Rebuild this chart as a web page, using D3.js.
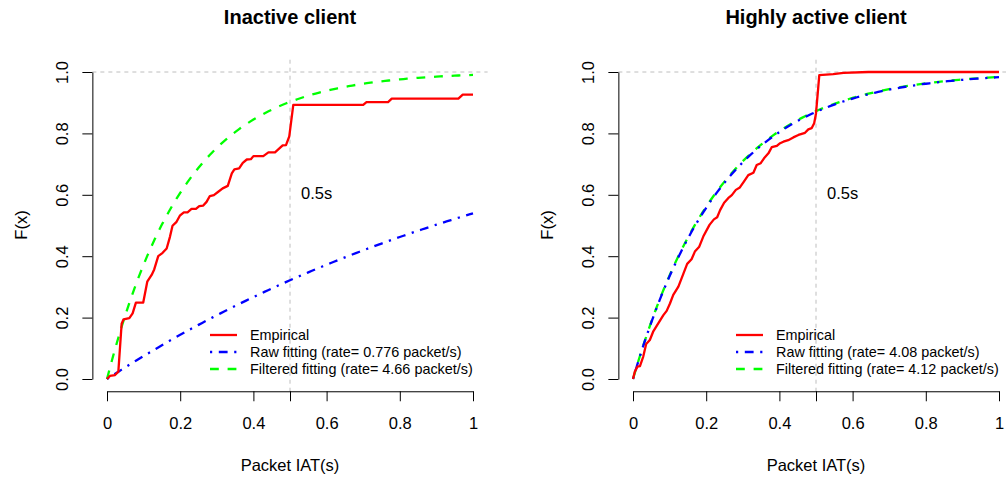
<!DOCTYPE html>
<html>
<head>
<meta charset="utf-8">
<script src="https://cdn.jsdelivr.net/npm/d3@7"></script>
<style>
  html, body { margin: 0; padding: 0; background: #fff; }
  svg { display: block; font-family: "Liberation Sans", Arial, Helvetica, sans-serif; }
</style>
</head>
<body>
<svg id="chart" width="1006" height="482"></svg>
<script>
// Empirical CDF of packet inter-arrival times, inactive client
const inactiveIAT = [0, 0.008, 0.022, 0.031, 0.040, 0.045, 0.061, 0.070, 0.079, 0.099, 0.110, 0.122, 0.129,
  0.140, 0.152, 0.163, 0.172, 0.179, 0.190, 0.199, 0.210, 0.220, 0.231, 0.243, 0.252, 0.263, 0.272,
  0.281, 0.292, 0.304, 0.316, 0.330, 0.341, 0.348, 0.361, 0.371, 0.382, 0.393, 0.400, 0.427, 0.441,
  0.459, 0.471, 0.480, 0.489, 0.498, 0.509, 0.700, 0.709, 0.768, 0.778, 0.960, 0.972, 1.0];
const inactiveCDF = [0, 0.010, 0.013, 0.024, 0.180, 0.194, 0.198, 0.214, 0.249, 0.249, 0.317, 0.339, 0.357,
  0.400, 0.411, 0.425, 0.463, 0.499, 0.512, 0.532, 0.543, 0.543, 0.554, 0.554, 0.563, 0.565, 0.577,
  0.596, 0.599, 0.610, 0.621, 0.629, 0.670, 0.683, 0.686, 0.704, 0.715, 0.716, 0.726, 0.726, 0.738,
  0.738, 0.751, 0.761, 0.762, 0.790, 0.893, 0.893, 0.902, 0.902, 0.913, 0.913, 0.926, 0.926];

// Empirical CDF of packet inter-arrival times, highly active client
const activeIAT = [0, 0.005, 0.012, 0.019, 0.028, 0.036, 0.046, 0.055, 0.069, 0.083, 0.092, 0.101, 0.110,
  0.124, 0.138, 0.148, 0.160, 0.169, 0.181, 0.192, 0.209, 0.221, 0.230, 0.238, 0.249, 0.260, 0.270,
  0.281, 0.292, 0.303, 0.315, 0.329, 0.338, 0.349, 0.358, 0.370, 0.379, 0.393, 0.402, 0.411, 0.424,
  0.438, 0.452, 0.470, 0.479, 0.488, 0.495, 0.500, 0.509, 0.547, 0.575, 0.643, 1.0];
const activeCDF = [0, 0.024, 0.040, 0.042, 0.073, 0.114, 0.127, 0.154, 0.181, 0.208, 0.222, 0.246, 0.274,
  0.301, 0.344, 0.375, 0.390, 0.415, 0.431, 0.464, 0.502, 0.520, 0.527, 0.550, 0.574, 0.589, 0.599,
  0.616, 0.624, 0.643, 0.664, 0.672, 0.697, 0.703, 0.719, 0.735, 0.755, 0.759, 0.768, 0.773, 0.778,
  0.787, 0.795, 0.802, 0.813, 0.817, 0.833, 0.865, 0.990, 0.993, 0.997, 1.0, 1.0];

// Fitted exponential rates (packet/s)
const inactiveRates = { raw: 0.776, filtered: 4.66 };
const activeRates = { raw: 4.08, filtered: 4.12 };

const panelTitles = ["Inactive client", "Highly active client"];
const xTickValues = [0, 0.2, 0.4, 0.5, 0.6, 0.8, 1];
const xTickLabels = ["0", "0.2", "0.4", "", "0.6", "0.8", "1"];
const yTickValues = [0, 0.2, 0.4, 0.6, 0.8, 1.0];
const yTickLabels = ["0.0", "0.2", "0.4", "0.6", "0.8", "1.0"];
const thresholdX = 0.5;
const thresholdLabel = "0.5s";
const xTitle = "Packet IAT(s)";
const yTitle = "F(x)";

const svg = d3.select("#chart");
const COL = { emp: "#ff0000", raw: "#0000ff", filt: "#00ff00", guide: "#bebebe" };
const DASH = { raw: "2.2,6.6,8.8,6.6", filt: "8.8,8.8" };
const LW = 2.3;

const panels = [
  { title: panelTitles[0], xs: inactiveIAT, ys: inactiveCDF, rates: inactiveRates, x0: 107 },
  { title: panelTitles[1], xs: activeIAT, ys: activeCDF, rates: activeRates, x0: 633 }
];

// exponential CDF evaluated on the grid R's curve() uses (n = 101)
const grid = d3.range(0, 101).map(i => i / 100);
const expCdf = rate => grid.map(x => [x, 1 - Math.exp(-rate * x)]);

panels.forEach(p => {
  const x = d3.scaleLinear().domain([0, 1]).range([p.x0, p.x0 + 366]);
  const y = d3.scaleLinear().domain([0, 1]).range([379, 72]);
  const left = x(-0.04), right = x(1.04), top = y(1.04), bottom = y(-0.04);
  const g = svg.append("g");

  // title
  g.append("text").attr("x", x(0.5)).attr("y", 24).attr("text-anchor", "middle")
    .attr("font-size", 20).attr("font-weight", "bold").text(p.title);

  // reference guides
  g.append("line").attr("x1", left).attr("x2", right).attr("y1", y(1)).attr("y2", y(1))
    .attr("stroke", COL.guide).attr("stroke-dasharray", "4,4");
  g.append("line").attr("x1", x(thresholdX)).attr("x2", x(thresholdX)).attr("y1", top).attr("y2", bottom)
    .attr("stroke", COL.guide).attr("stroke-dasharray", "4,4");
  g.append("text").attr("x", x(thresholdX) + 11).attr("y", 199).attr("font-size", 16.5).text(thresholdLabel);

  // axes
  const xAxis = g.append("g").attr("transform", `translate(0,${bottom})`)
    .call(d3.axisBottom(x).tickValues(xTickValues).tickSize(10).tickSizeOuter(0)
      .tickFormat((d, i) => xTickLabels[i]));
  xAxis.selectAll("text").attr("y", 38).attr("dy", null).attr("font-size", 16.5).attr("fill", "#000")
    .attr("font-family", "Liberation Sans, Arial, sans-serif");
  const yAxis = g.append("g").attr("transform", `translate(${left},0)`)
    .call(d3.axisLeft(y).tickValues(yTickValues).tickSize(10).tickSizeOuter(0)
      .tickFormat((d, i) => yTickLabels[i]));
  yAxis.selectAll("text").attr("transform", "rotate(-90)").attr("x", 0).attr("y", -30).attr("dy", "0.35em")
    .attr("text-anchor", "middle").attr("font-size", 16.5).attr("fill", "#000")
    .attr("font-family", "Liberation Sans, Arial, sans-serif");
  [xAxis, yAxis].forEach(a => { a.selectAll("path,line").attr("stroke", "#000"); });

  g.append("text").attr("x", x(0.5)).attr("y", 471).attr("text-anchor", "middle")
    .attr("font-size", 16.5).text(xTitle);
  g.append("text").attr("transform", `translate(${left - 71},225) rotate(-90)`)
    .attr("text-anchor", "middle").attr("dy", "0.35em").attr("font-size", 16.5).text(yTitle);

  // curves
  const line = d3.line().x(d => x(d[0])).y(d => y(d[1]));
  g.append("path").datum(expCdf(p.rates.filtered)).attr("d", line).attr("fill", "none")
    .attr("stroke", COL.filt).attr("stroke-width", LW).attr("stroke-dasharray", DASH.filt);
  g.append("path").datum(expCdf(p.rates.raw)).attr("d", line).attr("fill", "none")
    .attr("stroke", COL.raw).attr("stroke-width", LW).attr("stroke-dasharray", DASH.raw);
  g.append("path").datum(p.xs.map((v, i) => [v, p.ys[i]])).attr("d", line).attr("fill", "none")
    .attr("stroke", COL.emp).attr("stroke-width", LW).attr("stroke-linejoin", "round");

  // legend
  const entries = [
    { label: "Empirical", color: COL.emp, dash: null },
    { label: `Raw fitting (rate= ${p.rates.raw} packet/s)`, color: COL.raw, dash: DASH.raw },
    { label: `Filtered fitting (rate= ${p.rates.filtered} packet/s)`, color: COL.filt, dash: DASH.filt }
  ];
  const lg = g.append("g");
  entries.forEach((e, i) => {
    const cy = 335 + i * 17;
    lg.append("line").attr("x1", p.x0 + 103).attr("x2", p.x0 + 130).attr("y1", cy).attr("y2", cy)
      .attr("stroke", e.color).attr("stroke-width", LW).attr("stroke-dasharray", e.dash);
    lg.append("text").attr("x", p.x0 + 143).attr("y", cy + 5).attr("font-size", 14.4).text(e.label);
  });
});
</script>
</body>
</html>
